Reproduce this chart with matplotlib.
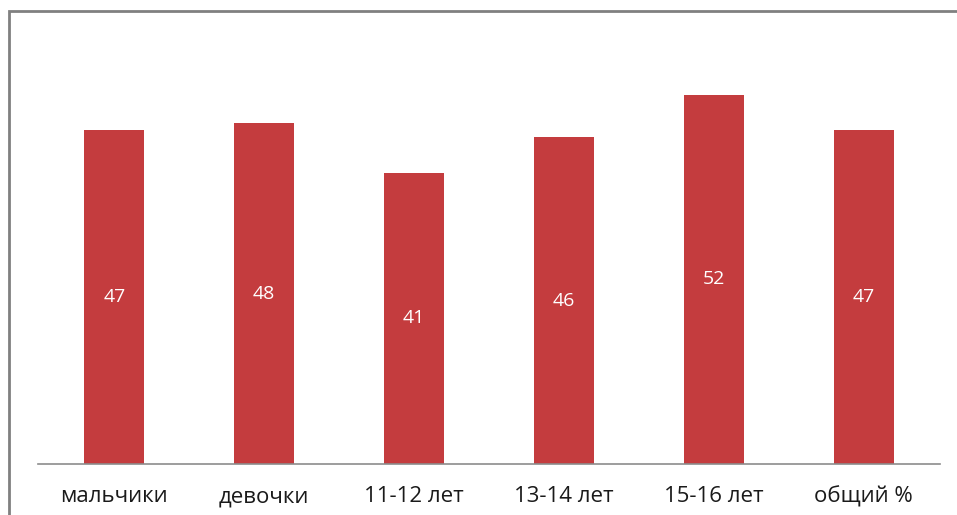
import matplotlib
matplotlib.use("Agg")
import matplotlib.pyplot as plt
from matplotlib.patches import Rectangle

categories = ["мальчики", "девочки", "11-12 лет", "13-14 лет", "15-16 лет", "общий %"]
values = [47, 48, 41, 46, 52, 47]

plt.rcParams['font.family'] = ['Open Sans', 'DejaVu Sans']

fig = plt.figure(figsize=(9.57, 5.15), dpi=100)
ax = fig.add_axes([38/957, (515-464)/515, (940-38)/957, (464-38)/515])

bar_color = "#c43c3e"
x = list(range(len(categories)))
bars = ax.bar(x, values, width=0.4, color=bar_color)
for b, v in zip(bars, values):
    ax.text(b.get_x() + b.get_width()/2, v/2, str(v), ha="center", va="center",
            color="white", fontsize=14)

ax.set_xlim(-0.51, 5.51)
ax.set_ylim(0, 60)
ax.set_xticks(x)
ax.set_xticklabels(categories, fontsize=16, color="#1a1a1a")
ax.tick_params(axis="x", length=0, pad=16)
ax.set_yticks([])
for s in ["top", "right", "left"]:
    ax.spines[s].set_visible(False)
ax.spines["bottom"].set_color("#8c8c8c")
ax.spines["bottom"].set_linewidth(1.2)

fig.patches.append(Rectangle((9/957, -0.05), 1.0, 1 - 11/515 + 0.05, transform=fig.transFigure,
                             fill=False, edgecolor="#808080", linewidth=2, clip_on=False))

fig.savefig("out.png", dpi=100)
